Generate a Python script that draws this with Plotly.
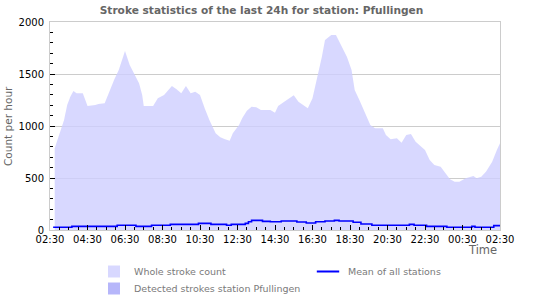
import plotly.graph_objects as go
from datetime import datetime, timedelta

# ---- data ----
whole_times = ["02:45","02:50","03:00","03:15","03:25","03:35","03:45","03:55","04:15","04:30",
               "04:55","05:05","05:25","05:35","05:55","06:10","06:20","06:30","06:45","07:00",
               "07:15","07:25","07:30","08:00","08:15","08:35","08:50","09:00","09:15","09:30",
               "09:45","10:00","10:15","10:30","10:45","11:00","11:20","11:35","11:50","12:05",
               "12:15","12:35","12:45","13:00","13:15","13:30","13:45","14:15","14:30","14:40",
               "14:55","15:15","15:30","15:45","16:00","16:15","16:30","16:40","16:50","17:00",
               "17:10","17:20","17:30","17:45","18:05","18:20","18:35","18:45","19:00","19:20",
               "19:35","19:50","20:15","20:25","20:40","21:00","21:15","21:30","21:45","22:00",
               "22:15","22:30","22:45","23:00","23:20","23:35","23:50","00:05","00:20","00:40",
               "00:55","01:05","01:15","01:30","01:45","02:05","02:20","02:30"]
whole_counts = [785,833,930,1058,1202,1282,1336,1314,1314,1192,
                1202,1212,1218,1298,1442,1538,1635,1721,1587,1490,
                1410,1298,1192,1192,1266,1298,1346,1385,1353,1314,
                1385,1314,1330,1298,1170,1058,930,891,872,859,
                930,1010,1074,1147,1186,1180,1154,1154,1128,1192,
                1224,1260,1295,1234,1202,1170,1266,1394,1538,1667,
                1827,1853,1875,1875,1763,1667,1538,1346,1250,1106,
                1010,978,978,913,872,882,840,913,923,849,
                808,769,673,625,609,545,488,465,465,497,
                513,519,497,513,561,657,769,833]

mean_times = ["02:40","03:40","06:05","07:05","07:55","08:55","10:25","11:05","11:55","12:10",
              "12:55","13:05","13:15","13:50","14:15","14:50","15:40","16:10","16:40","17:10",
              "17:40","17:55","18:40","19:05","19:40","21:40","21:55","22:35","23:40","01:00",
              "01:10","02:10","02:30"]
mean_counts = [26,35,45,35,45,54,64,54,45,54,
               64,80,93,83,80,87,77,67,80,87,
               93,87,74,58,45,54,45,35,26,35,
               26,42,51]

detected_times = whole_times
detected_counts = [0] * len(whole_times)

tick_labels = ["02:30","04:30","06:30","08:30","10:30","12:30","14:30",
               "16:30","18:30","20:30","22:30","00:30","02:30"]

WHOLE_COLOR = "rgb(216,216,255)"
DETECTED_COLOR = "rgb(182,182,250)"
MEAN_COLOR = "#0000ff"

start = datetime(2024, 1, 1, 2, 30)


def to_dates(times):
    out = []
    day = 0
    prev = None
    for t in times:
        h, m = map(int, t.split(":"))
        mins = h * 60 + m
        if prev is not None and mins < prev:
            day += 1
        prev = mins
        out.append(datetime(2024, 1, 1) + timedelta(days=day, minutes=mins))
    return out


fig = go.Figure()
fig.add_trace(go.Scatter(
    x=to_dates(whole_times), y=whole_counts, name="Whole stroke count",
    mode="lines", line=dict(width=0, color=WHOLE_COLOR),
    fill="tozeroy", fillcolor="rgba(206,206,255,0.8)", showlegend=False))
fig.add_trace(go.Scatter(
    x=to_dates(detected_times), y=detected_counts, name="Detected strokes station Pfullingen",
    mode="lines", line=dict(width=0, color=DETECTED_COLOR),
    fill="tozeroy", fillcolor=DETECTED_COLOR, showlegend=False))
fig.add_trace(go.Scatter(
    x=to_dates(mean_times), y=mean_counts, name="Mean of all stations",
    mode="lines", line=dict(width=1.6, color=MEAN_COLOR, shape="hv"), showlegend=False))

# legend entries (symbols only)
fig.add_trace(go.Scatter(x=[None], y=[None], name="Whole stroke count", mode="markers",
                         marker=dict(symbol="square", size=12, color=WHOLE_COLOR),
                         legend="legend"))
fig.add_trace(go.Scatter(x=[None], y=[None], name="Mean of all stations", mode="markers",
                         marker=dict(symbol="line-ew", size=17,
                                     line=dict(width=2, color=MEAN_COLOR)),
                         legend="legend2"))
fig.add_trace(go.Scatter(x=[None], y=[None], name="Detected strokes station Pfullingen",
                         mode="markers",
                         marker=dict(symbol="square", size=12, color=DETECTED_COLOR),
                         legend="legend3"))

tickvals = to_dates(tick_labels)
legend_font = dict(family="DejaVu Sans", size=9.5, color="#7a7a7a")


def legend_at(px, py):
    return dict(x=(px - 50) / 450, y=(230 - py) / 208, xanchor="left", yanchor="top",
                orientation="v", font=legend_font, itemwidth=30,
                bgcolor="rgba(0,0,0,0)")


fig.update_layout(
    width=550, height=300,
    margin=dict(l=50, r=50, t=22, b=70, autoexpand=False),
    paper_bgcolor="white", plot_bgcolor="white",
    font=dict(family="DejaVu Sans", size=10, color="black"),
    title=dict(text="Stroke statistics of the last 24h for station: Pfullingen",
               xref="container", x=261.5 / 550, xanchor="center",
               yref="container", y=1 - 10.5 / 300, yanchor="middle",
               font=dict(family="DejaVu Sans", size=10.6, color="#666666", weight="bold")),
    xaxis=dict(type="date", range=[start, start + timedelta(hours=24)],
               tickvals=tickvals, ticktext=tick_labels,
               ticks="inside", ticklen=5, tickcolor="black", tickwidth=1,
               minor=dict(dtick=1800000, tick0=start, ticks="inside", ticklen=3,
                          tickcolor="black", showgrid=False),
               showgrid=False, showline=True, linecolor="#cccccc", mirror=True,
               zeroline=False, automargin=False, ticklabelstandoff=0,
               tickfont=dict(size=10, color="black")),
    yaxis=dict(range=[0, 2000], dtick=500, tick0=0,
               ticks="inside", ticklen=5, tickcolor="black",
               minor=dict(dtick=100, ticks="inside", ticklen=3, tickcolor="black",
                          showgrid=False),
               showgrid=True, gridcolor="#cccccc", showline=True, linecolor="#cccccc",
               mirror=True, zeroline=False, automargin=False, ticklabelstandoff=3,
               tickfont=dict(size=10, color="black")),
    legend=legend_at(94, 257),
    legend2=legend_at(308, 257),
    legend3=legend_at(94, 274),
    showlegend=True,
)
fig.add_annotation(text="Count per hour", xref="paper", yref="paper",
                   x=-(50 - 8) / 450, y=0.5, xanchor="center", yanchor="middle",
                   textangle=-90, showarrow=False,
                   font=dict(family="DejaVu Sans", size=10.5, color="#666666"))
fig.add_annotation(text="Time", xref="paper", yref="paper",
                   x=(499 - 50) / 450, y=(230 - 250) / 208, xanchor="right", yanchor="middle",
                   showarrow=False,
                   font=dict(family="DejaVu Sans", size=11.5, color="#666666"))

fig.write_html("out.html")
